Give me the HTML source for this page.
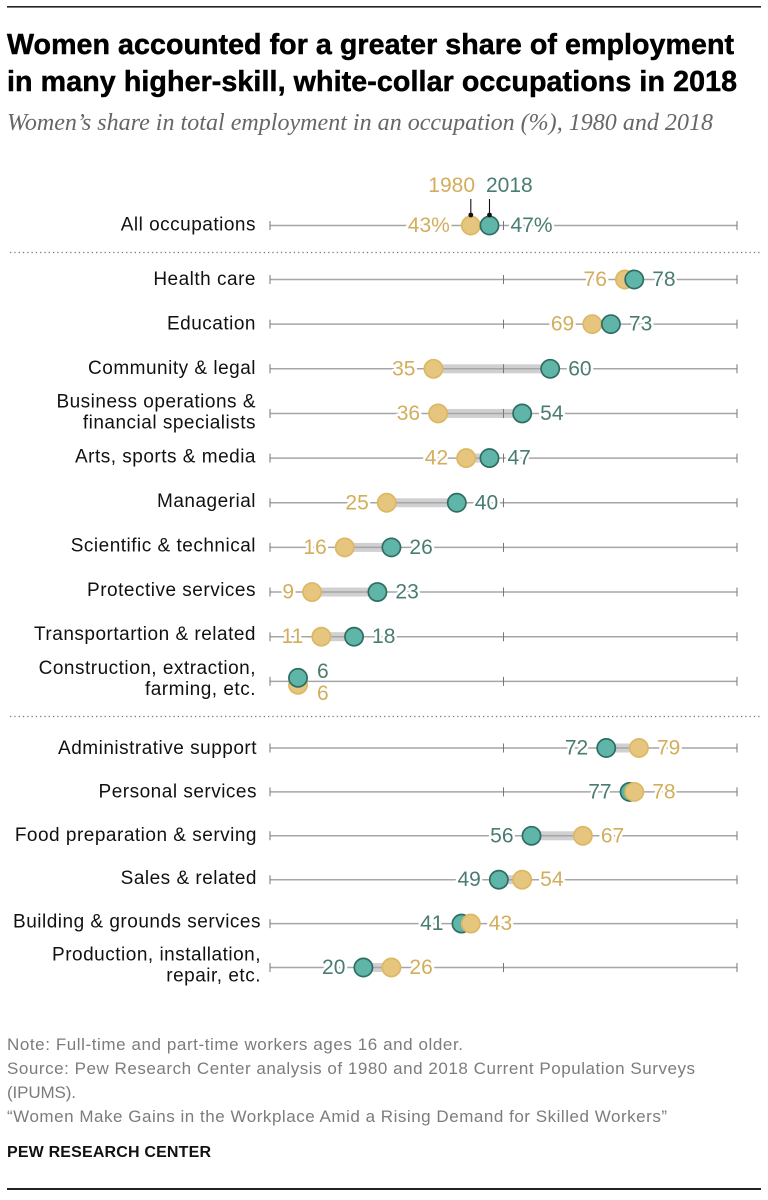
<!DOCTYPE html>
<html lang="en">
<head>
<meta charset="utf-8">
<title>Women's share in employment by occupation</title>
<style>
html,body{margin:0;padding:0;background:#fff;}
svg{display:block;}
text{font-family:"Liberation Sans",sans-serif;}
.row-label{font-size:19px;fill:#111;text-anchor:end;letter-spacing:.5px;}
.val{font-size:21px;paint-order:stroke;stroke:#fff;stroke-width:5px;stroke-linejoin:round;}
.note{font-size:17px;fill:#7c7c7c;}
.title{font-size:28.6px;font-weight:bold;fill:#000;stroke:#000;stroke-width:.5px;}
</style>
</head>
<body>
<svg id="chart" xmlns="http://www.w3.org/2000/svg" width="768" height="1200" viewBox="0 0 768 1200">
  <rect x="0" y="0" width="768" height="1200" fill="#fff"/>
  <rect x="7" y="6" width="754" height="1.6" fill="#222"/>
  <text class="title" x="7" y="54" textLength="727" lengthAdjust="spacing">Women accounted for a greater share of employment</text>
  <text class="title" x="7" y="91" textLength="730" lengthAdjust="spacing">in many higher-skill, white-collar occupations in 2018</text>
  <text x="7" y="130" textLength="706" lengthAdjust="spacing" style="font-family:'Liberation Serif',serif;font-style:italic;font-size:24px;fill:#666;">Women’s share in total employment in an occupation (%), 1980 and 2018</text>

  <line x1="10" x2="762" y1="252.5" y2="252.5" stroke="#777" stroke-width="1.3" stroke-dasharray="1.3 3"/>
  <line x1="10" x2="762" y1="716.5" y2="716.5" stroke="#777" stroke-width="1.3" stroke-dasharray="1.3 3"/>

  <g id="marks"></g>

  <text class="note" x="7" y="1050" textLength="456" lengthAdjust="spacing">Note: Full-time and part-time workers ages 16 and older.</text>
  <text class="note" x="7" y="1074" textLength="688" lengthAdjust="spacing">Source: Pew Research Center analysis of 1980 and 2018 Current Population Surveys</text>
  <text class="note" x="7" y="1098" textLength="69" lengthAdjust="spacing">(IPUMS).</text>
  <text class="note" x="7" y="1122" textLength="660" lengthAdjust="spacing">“Women Make Gains in the Workplace Amid a Rising Demand for Skilled Workers”</text>
  <text x="7" y="1157" textLength="204" lengthAdjust="spacing" style="font-size:16px;font-weight:bold;fill:#111;">PEW RESEARCH CENTER</text>
  <rect x="7" y="1188" width="754" height="2" fill="#222"/>
</svg>
<script>
const allCategory = ["All occupations"];
const allShare1980 = [43];
const allShare2018 = [47];

const gainCategories = ["Health care", "Education", "Community & legal", "Business operations &|financial specialists", "Arts, sports & media", "Managerial", "Scientific & technical", "Protective services", "Transportartion & related", "Construction, extraction,|farming, etc."];
const gainShare1980 = [76, 69, 35, 36, 42, 25, 16, 9, 11, 6];
const gainShare2018 = [78, 73, 60, 54, 47, 40, 26, 23, 18, 6];

const lossCategories = ["Administrative support", "Personal services", "Food preparation & serving", "Sales & related", "Building & grounds services", "Production, installation,|repair, etc."];
const lossShare1980 = [79, 78, 67, 54, 43, 26];
const lossShare2018 = [72, 77, 56, 49, 41, 20];

const axisTicks = [0, 50, 100];

const GOLD_FILL = "#e6c67e", GOLD_STROKE = "#dcb862", GOLD_TEXT = "#d2ae5c";
const TEAL_FILL = "#5fb6a8", TEAL_STROKE = "#2f6d62", TEAL_TEXT = "#4a7c72";
const NS = "http://www.w3.org/2000/svg";
const root = document.getElementById("marks");

function xScale(v) { return 270 + v * 4.67; }

function mk(tag, attrs, parent) {
  const el = document.createElementNS(NS, tag);
  for (const k in attrs) el.setAttribute(k, attrs[k]);
  (parent || root).appendChild(el);
  return el;
}

function circle(group, name, v, y, fill, stroke) {
  const c = mk("circle", { cx: xScale(v), cy: y, r: 9.1, fill: fill, stroke: stroke, "stroke-width": 1.7 }, group);
  
  
  return c;
}

function valueLabel(group, name, txt, x, y, anchor, color) {
  const t = mk("text", { class: "val", x: x, y: y, "text-anchor": anchor, fill: color }, group);
  t.textContent = txt;
  
  
  return t;
}

function drawRow(category, v1980, v2018, lineY, labelY, labelRight, suffix, gap) {
  const slug = category.split("|")[0].toLowerCase().replace(/[^a-z]+/g, "-").replace(/-+$/, "");
  const g = mk("g", {});
  
  

  const parts = category.split("|");
  parts.forEach(function (part, i) {
    const base = parts.length === 1 ? labelY + 6 : labelY - 4.5 + i * 21;
    const t = mk("text", { class: "row-label", x: labelRight, y: base }, g);
    t.textContent = part;
    
    
  });

  const band = mk("rect", {
    x: xScale(Math.min(v1980, v2018)), y: lineY - 4.5,
    width: Math.abs(xScale(v2018) - xScale(v1980)), height: 9, fill: "#d0d0d2"
  }, g);
  
  

  const axis = mk("line", { x1: xScale(axisTicks[0]), x2: xScale(axisTicks[axisTicks.length - 1]), y1: lineY, y2: lineY, stroke: "#a6a6a6", "stroke-width": 1.5 }, g);
  
  

  axisTicks.forEach(function (tv) {
    const tk = mk("line", { x1: xScale(tv), x2: xScale(tv), y1: lineY - 4.5, y2: lineY + 4.5, stroke: "#777", "stroke-width": 1 }, g);
    
    
  });

  const tied = v1980 === v2018;
  const labelBase = lineY + 6.5;
  if (tied) {
    valueLabel(g, 'value-2018', v2018 + suffix, xScale(v2018) + 19, lineY - 3.5, "start", TEAL_TEXT);
    valueLabel(g, 'value-1980', v1980 + suffix, xScale(v1980) + 19, lineY + 18.5, "start", GOLD_TEXT);
    circle(g, 'dot-1980', v1980, lineY + 3.5, GOLD_FILL, GOLD_STROKE);
    circle(g, 'dot-2018', v2018, lineY - 3.5, TEAL_FILL, TEAL_STROKE);
  } else if (v2018 > v1980) {
    valueLabel(g, 'value-1980', v1980 + suffix, xScale(v1980) - gap, labelBase, "end", GOLD_TEXT);
    valueLabel(g, 'value-2018', v2018 + suffix, xScale(v2018) + gap, labelBase, "start", TEAL_TEXT);
    circle(g, 'dot-1980', v1980, lineY, GOLD_FILL, GOLD_STROKE);
    circle(g, 'dot-2018', v2018, lineY, TEAL_FILL, TEAL_STROKE);
  } else {
    valueLabel(g, 'value-2018', v2018 + suffix, xScale(v2018) - gap, labelBase, "end", TEAL_TEXT);
    valueLabel(g, 'value-1980', v1980 + suffix, xScale(v1980) + gap, labelBase, "start", GOLD_TEXT);
    circle(g, 'dot-2018', v2018, lineY, TEAL_FILL, TEAL_STROKE);
    circle(g, 'dot-1980', v1980, lineY, GOLD_FILL, GOLD_STROKE);
  }
}

drawRow(allCategory[0], allShare1980[0], allShare2018[0], 225.5, 224.5, 256, "%", 21);

gainCategories.forEach(function (c, i) {
  drawRow(c, gainShare1980[i], gainShare2018[i], 279.5 + i * 44.65, 279 + i * 44.4, 256, "", 18);
});

lossCategories.forEach(function (c, i) {
  const right = i >= 4 ? 261 : 257;
  drawRow(c, lossShare1980[i], lossShare2018[i], 748 + i * 43.9, 748 + i * 43.4, right, "", 18);
});

/* Year key above the first row */
const key = mk("g", {});



function keyEntry(label, v, color, anchor, labelX) {
  const t = mk("text", { x: labelX, y: 192, "text-anchor": anchor, fill: color, "font-size": "21" }, key);
  t.textContent = label;
  
  
  const ln = mk("line", { x1: xScale(v), x2: xScale(v), y1: 199, y2: 215, stroke: "#111", "stroke-width": 1.1 }, key);
  
  
  const d = mk("circle", { cx: xScale(v), cy: 215, r: 2.4, fill: "#111" }, key);
  
  
}
keyEntry("1980", allShare1980[0], GOLD_TEXT, "end", 475);
keyEntry("2018", allShare2018[0], TEAL_TEXT, "start", 486);
</script>
</body>
</html>
